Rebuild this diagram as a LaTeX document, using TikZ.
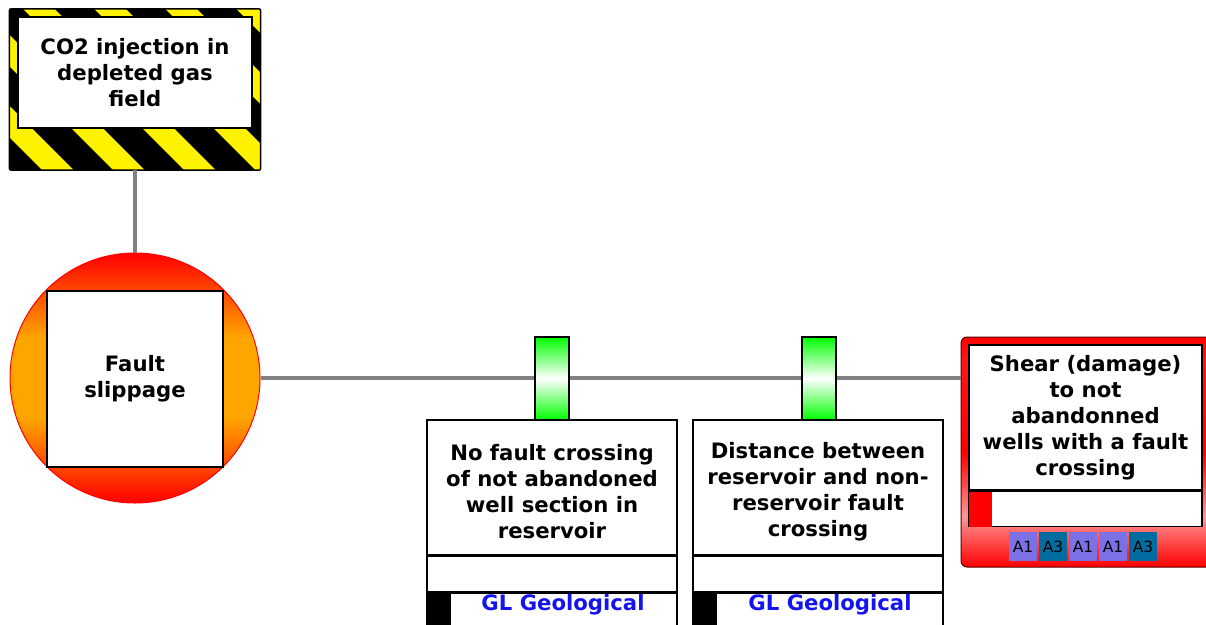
\documentclass[tikz,border=0pt]{standalone}
\usepackage{fontspec}
\setmainfont{DejaVu Sans}
\definecolor{midorange}{RGB}{255,165,0}
\definecolor{lgreen}{RGB}{0,255,0}
\definecolor{linegray}{RGB}{128,128,128}
\definecolor{pinkmid}{RGB}{255,150,150}
\definecolor{badgeA}{RGB}{123,112,230}
\definecolor{badgeB}{RGB}{0,108,160}
\definecolor{glblue}{RGB}{20,20,240}
\definecolor{darkred}{RGB}{90,0,0}
\pgfdeclareverticalshading{redbox}{100bp}{color(0bp)=(red); color(25bp)=(red); color(36bp)=(pinkmid); color(50bp)=(red); color(70bp)=(red!85!pinkmid); color(75bp)=(red); color(100bp)=(red)}
\pgfdeclareverticalshading{evshade}{100bp}{color(0bp)=(red); color(25bp)=(red); color(42bp)=(midorange); color(58bp)=(midorange); color(75bp)=(red); color(100bp)=(red)}
\begin{document}
\begin{tikzpicture}[x=1pt,y=-1pt,
  conn/.style={draw=linegray, line width=3.2pt},
  txt/.style={font=\bfseries\fontsize{21.2}{26}\selectfont, align=center},
  whitebox/.style={draw=black, fill=white, line width=1.5pt, inner sep=0pt},
  barrier/.style={draw=black, line width=1.2pt, inner sep=0pt, minimum width=34pt, minimum height=83pt, top color=lgreen, bottom color=lgreen, middle color=white},
  ctrlbox/.style={whitebox, minimum width=250pt, minimum height=135pt},
  rowbox/.style={whitebox, minimum width=250pt, minimum height=35pt},
  glrow/.style={whitebox, minimum width=250pt, minimum height=40pt},
  gltext/.style={font=\bfseries\fontsize{21.2}{26}\selectfont, text=glblue},
  badge/.style={inner sep=0pt, minimum width=28.5pt, minimum height=29pt, font=\fontsize{15.5}{17}\selectfont, text=black}
]
\useasboundingbox (0,0) rectangle (1206,624);
\fill[white] (0,0) rectangle (1206,624);

% hazard
\node[fill=yellow, inner sep=0pt, minimum width=251pt, minimum height=161pt] (hz) at (135,89.5) {};
\begin{scope}
  \clip[rounded corners=2pt] (hz.north west) rectangle (hz.south east);
  \foreach \k in {-4,...,4} {
    \pgfmathsetmacro\ca{46+71*\k}
    \pgfmathsetmacro\cb{85+71*\k}
    \fill[black] (\ca,0) -- (\cb,0) -- (\cb+180,180) -- (\ca+180,180) -- cycle;
  }
\end{scope}
\draw[black, line width=1.5pt, rounded corners=2pt] (hz.north west) rectangle (hz.south east);
\node[whitebox, txt, minimum width=234pt, minimum height=111pt] (hzt) at (135,72.5) {CO2 injection in\\depleted gas\\field};

% top event
\node[circle, draw=red, line width=1pt, minimum size=250pt, inner sep=0pt, shading=evshade] (ev) at (135,378) {};
\node[whitebox, txt, minimum size=176pt] (evt) at (135,379) {Fault\\slippage};

% consequence
\node[draw=darkred, line width=1pt, rounded corners=6pt, inner sep=0pt, minimum width=251pt, minimum height=230pt, shading=redbox] (cons) at (1086.5,452) {};
\node[whitebox, txt, minimum width=233pt, minimum height=145pt] (const) at (1085.5,417.5) {Shear (damage)\\to not\\abandonned\\wells with a fault\\crossing};
\node[whitebox, minimum width=233pt, minimum height=35pt, anchor=north] (consr) at (const.south) {};
\fill[red] ([shift={(0.75,0.75)}]consr.north west) rectangle ([shift={(24,-0.75)}]consr.south west);
\node[badge, fill=badgeA] (a1) at (1023,546.5) {A1};
\node[badge, fill=badgeB] (a2) at (1053,546.5) {A3};
\node[badge, fill=badgeA] (a3) at (1083,546.5) {A1};
\node[badge, fill=badgeA] (a4) at (1113,546.5) {A1};
\node[badge, fill=badgeB] (a5) at (1143,546.5) {A3};

% connectors
\draw[conn] (hz.south) -- (ev.north);
\draw[conn] (ev.east) -- (ev.east -| cons.west);

% controls
\node[ctrlbox] (c1) at (552,487.5) {};
\node[txt] (c1t) at (552,492) {No fault crossing\\of not abandoned\\well section in\\reservoir};
\node[rowbox, anchor=north] (c1r) at (c1.south) {};
\node[glrow, anchor=north] (c1g) at (c1r.south) {};
\fill[black] ([shift={(0.75,0.75)}]c1g.north west) rectangle ([shift={(25,0)}]c1g.south west);
\node[gltext] (c1l) at (563,605) {GL Geological};

\node[ctrlbox] (c2) at (818,487.5) {};
\node[txt] (c2t) at (818,492) {Distance between\\reservoir and non-\\reservoir fault\\crossing};
\node[rowbox, anchor=north] (c2r) at (c2.south) {};
\node[glrow, anchor=north] (c2g) at (c2r.south) {};
\fill[black] ([shift={(0.75,0.75)}]c2g.north west) rectangle ([shift={(25,0)}]c2g.south west);
\node[gltext] (c2l) at (830,605) {GL Geological};

% barriers
\node[barrier] (b1) at (552,378.5) {};
\node[barrier] (b2) at (819,378.5) {};
\end{tikzpicture}
\end{document}
